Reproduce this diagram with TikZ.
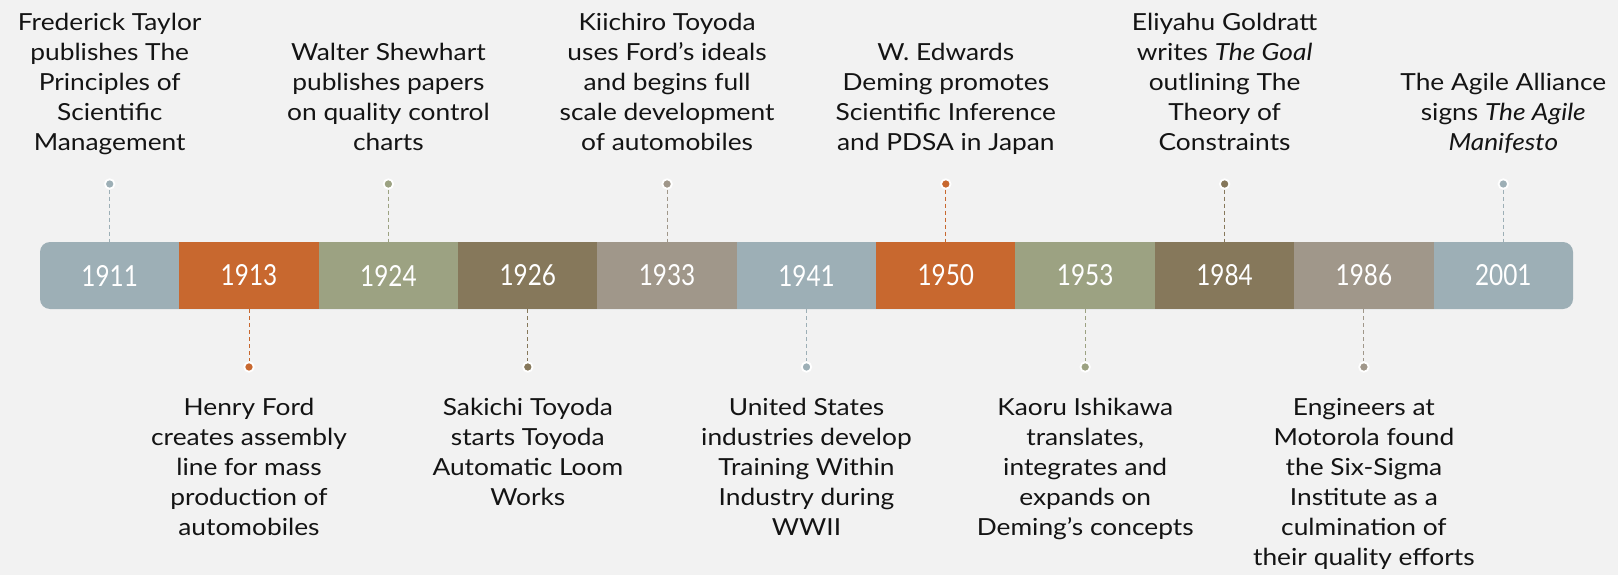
\documentclass[tikz,border=0pt]{standalone}
\usepackage{fontspec}
\setmainfont{Lato}[FakeStretch=1.12]
\newfontfamily\yearfont{Lato}[FakeStretch=0.84]
\definecolor{cblue}{HTML}{9DAFB6}
\definecolor{corange}{HTML}{C8682F}
\definecolor{cgreen}{HTML}{9CA282}
\definecolor{cbrown}{HTML}{86785B}
\definecolor{ctaupe}{HTML}{A0978A}
\definecolor{bg}{HTML}{F2F2F2}
\definecolor{ink}{HTML}{141414}
\begin{document}
\begin{tikzpicture}[x=1pt,y=-1pt,
  seg/.style={minimum width=139.8pt, minimum height=67pt, inner sep=0pt, text=white, font=\yearfont\fontsize{29}{30}\selectfont},
  segfill/.style={seg, fill=#1},
  evdot/.style={circle, fill=#1, draw=white, line width=1.8pt, minimum size=9.5pt, inner sep=0pt},
  link/.style={draw=#1, dash pattern=on 4pt off 3pt, line width=1pt},
  toptext/.style={anchor=south, align=center, inner sep=0pt, text=ink, font=\fontsize{23.5}{30}\selectfont},
  bottext/.style={anchor=north, align=center, inner sep=0pt, text=ink, font=\fontsize{23.5}{30}\selectfont}]
\fill[bg] (0,0) rectangle (1618,575);
\useasboundingbox (0,0) rectangle (1618,575);
% bar with rounded ends
\fill[cblue, rounded corners=10pt] (40,242) rectangle (1573,309);
% segments
\node[seg] (s1911) at (109.7,275.5) {1911};
\node[segfill=corange] (s1913) at (249.0,275.5) {1913};
\node[segfill=cgreen] (s1924) at (388.4,275.5) {1924};
\node[segfill=cbrown] (s1926) at (527.8,275.5) {1926};
\node[segfill=ctaupe] (s1933) at (667.1,275.5) {1933};
\node[segfill=cblue] (s1941) at (806.5,275.5) {1941};
\node[segfill=corange] (s1950) at (945.8,275.5) {1950};
\node[segfill=cgreen] (s1953) at (1085.2,275.5) {1953};
\node[segfill=cbrown] (s1984) at (1224.6,275.5) {1984};
\node[segfill=ctaupe] (s1986) at (1363.9,275.5) {1986};
\node[seg] (s2001) at (1503.3,275.5) {2001};
% top dots
\node[evdot=cblue] (d1911) at (109.7,184) {};
\node[evdot=cgreen] (d1924) at (388.4,184) {};
\node[evdot=ctaupe] (d1933) at (667.1,184) {};
\node[evdot=corange] (d1950) at (945.8,184) {};
\node[evdot=cbrown] (d1984) at (1224.6,184) {};
\node[evdot=cblue] (d2001) at (1503.3,184) {};
% bottom dots
\node[evdot=corange] (d1913) at (249.0,367) {};
\node[evdot=cbrown] (d1926) at (527.8,367) {};
\node[evdot=cblue] (d1941) at (806.5,367) {};
\node[evdot=cgreen] (d1953) at (1085.2,367) {};
\node[evdot=ctaupe] (d1986) at (1363.9,367) {};
% connectors
\draw[link=cblue] (d1911) -- (s1911.north);
\draw[link=cgreen] (d1924) -- (s1924.north);
\draw[link=ctaupe] (d1933) -- (s1933.north);
\draw[link=corange] (d1950) -- (s1950.north);
\draw[link=cbrown] (d1984) -- (s1984.north);
\draw[link=cblue] (d2001) -- (s2001.north);
\draw[link=corange] (s1913.south) -- (d1913);
\draw[link=cbrown] (s1926.south) -- (d1926);
\draw[link=cblue] (s1941.south) -- (d1941);
\draw[link=cgreen] (s1953.south) -- (d1953);
\draw[link=ctaupe] (s1986.south) -- (d1986);
% top texts
\node[toptext] (t1911) at (109.7,160) {Frederick Taylor\\publishes The\\Principles of\\Scientific\\Management\strut};
\node[toptext] (t1924) at (388.4,160) {Walter Shewhart\\publishes papers\\on quality control\\charts\strut};
\node[toptext] (t1933) at (667.1,160) {Kiichiro Toyoda\\uses Ford’s ideals\\and begins full\\scale development\\of automobiles\strut};
\node[toptext] (t1950) at (945.8,160) {W. Edwards\\Deming promotes\\Scientific Inference\\and PDSA in Japan\strut};
\node[toptext] (t1984) at (1224.6,160) {Eliyahu Goldratt\\writes \textit{The Goal}\\outlining The\\Theory of\\Constraints\strut};
\node[toptext] (t2001) at (1503.3,160) {The Agile Alliance\\signs \textit{The Agile}\\\textit{Manifesto}\strut};
% bottom texts
\node[bottext] (t1913) at (249.0,394) {\strut Henry Ford\\creates assembly\\line for mass\\production of\\automobiles};
\node[bottext] (t1926) at (527.8,394) {\strut Sakichi Toyoda\\starts Toyoda\\Automatic Loom\\Works};
\node[bottext] (t1941) at (806.5,394) {\strut United States\\industries develop\\Training Within\\Industry during\\WWII};
\node[bottext] (t1953) at (1085.2,394) {\strut Kaoru Ishikawa\\translates,\\integrates and\\expands on\\Deming’s concepts};
\node[bottext] (t1986) at (1363.9,394) {\strut Engineers at\\Motorola found\\the Six-Sigma\\Institute as a\\culmination of\\their quality efforts};
\end{tikzpicture}
\end{document}
